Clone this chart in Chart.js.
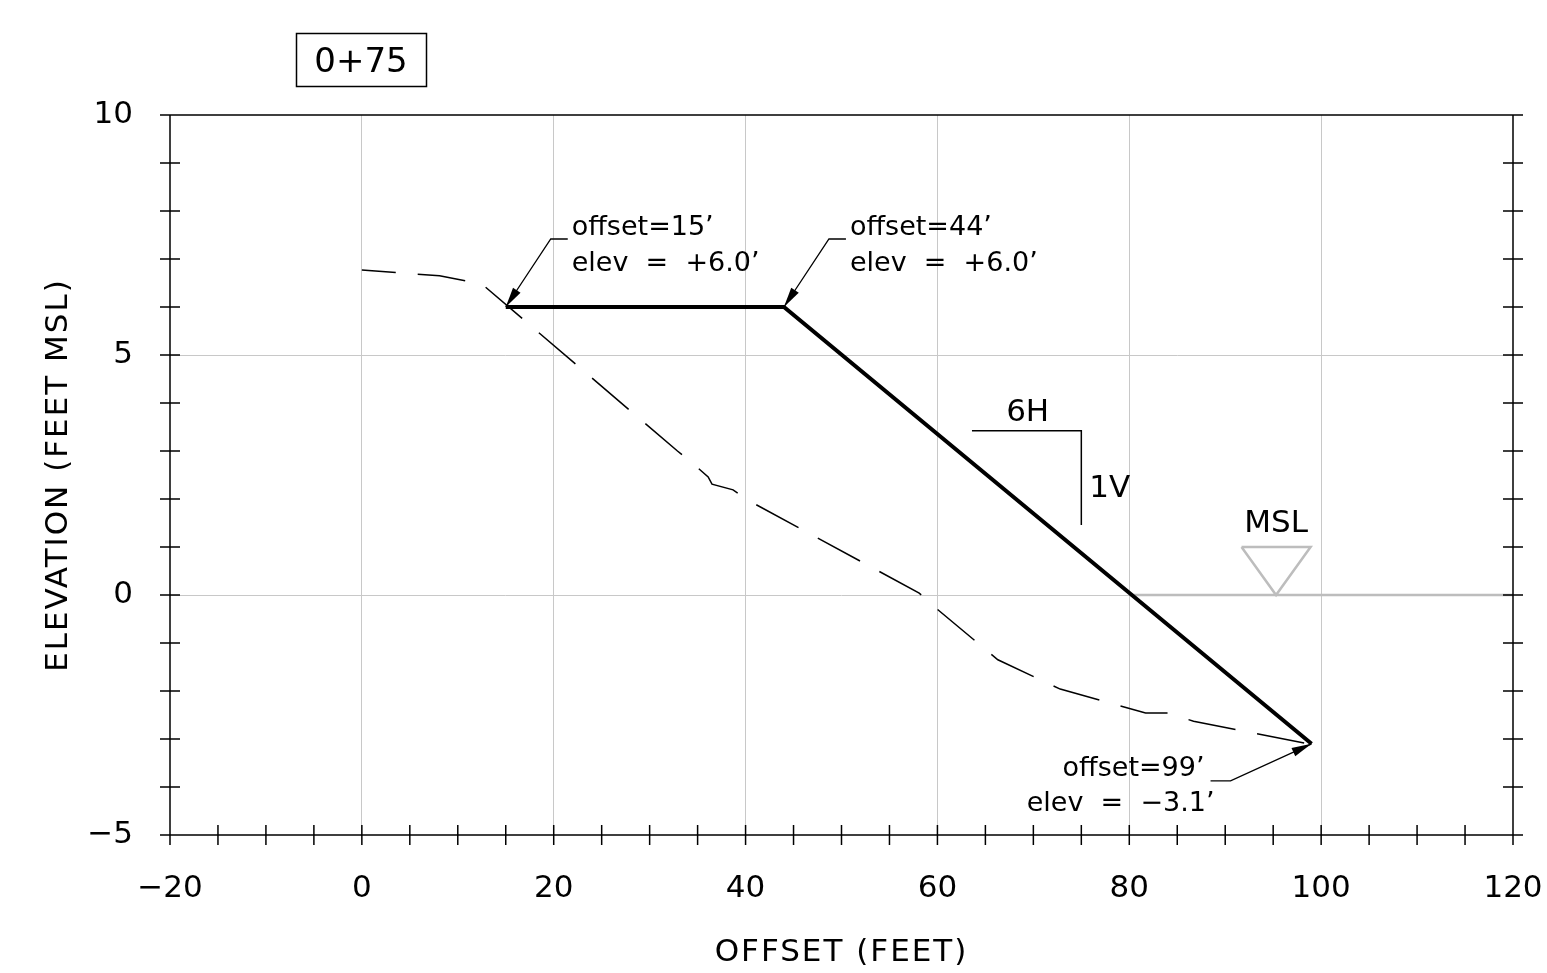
<!DOCTYPE html>
<html>
<head>
<meta charset="utf-8">
<script src="https://cdn.jsdelivr.net/npm/chart.js@4.4.1/dist/chart.umd.min.js"></script>
<style>
  html, body { margin: 0; padding: 0; background: #fff; }
  #wrap { width: 1547px; height: 973px; position: relative; }
</style>
</head>
<body>
<div id="wrap"><canvas id="chart"></canvas></div>
<script>
// ===== data (feet) =====
const groundX = [0, 8.1, 12.5, 32.9, 34.2, 36.1, 36.5, 38.7, 40.2, 58.1, 59.7, 66.3, 72.8, 81.7, 84.0, 86.7, 99.1, 99.9];
const groundY = [6.77, 6.65, 6.48, 3.0, 2.79, 2.46, 2.31, 2.19, 1.98, 0.04, -0.25, -1.35, -1.96, -2.46, -2.46, -2.63, -3.12, -3.12];

const designX = [15, 44, 99];
const designY = [6, 6, -3.1];

const mslX = [80, 120];
const mslY = [0, 0];
const mslMarkX = [91.7, 98.9, 95.3, 91.7];
const mslMarkY = [1, 1, 0, 1];

const slopeX = [63.6, 75, 75];
const slopeY = [3.42, 3.42, 1.46];

const xTicks = [-20, 0, 20, 40, 60, 80, 100, 120];
const yTicks = [-5, 0, 5, 10];

const calloutX = [15, 44, 99];
const calloutY = [6, 6, -3.1];
const calloutText = [
  ['offset=15’', 'elev  =  +6.0’'],
  ['offset=44’', 'elev  =  +6.0’'],
  ['offset=99’', 'elev  =  −3.1’']
];

const stationLabel = '0+75';
const slopeH = '6H', slopeV = '1V';
const mslLabel = 'MSL';
const xTitle = 'OFFSET (FEET)';
const yTitle = 'ELEVATION (FEET MSL)';

const FONT = '"DejaVu Sans", sans-serif';
const pts = (xs, ys) => xs.map((x, i) => ({ x, y: ys[i] }));
const fmt = v => (v < 0 ? '−' + Math.abs(v) : String(v));

function arrowHead(ctx, fx, fy, tx, ty) {
  const a = Math.atan2(ty - fy, tx - fx);
  const L = 20, W = 4.5;
  const c = Math.cos(a), s = Math.sin(a);
  ctx.beginPath();
  ctx.moveTo(tx, ty);
  ctx.lineTo(tx - L * c + W * s, ty - L * s - W * c);
  ctx.lineTo(tx - L * c - W * s, ty - L * s + W * c);
  ctx.closePath();
  ctx.fill();
}

// ===== frame, minor ticks, labels, callouts =====
const drawing = {
  id: 'drawing',
  afterDraw(chart) {
    const { ctx, chartArea: a, scales: { x, y } } = chart;
    ctx.save();
    ctx.strokeStyle = '#000';
    ctx.fillStyle = '#000';
    ctx.lineWidth = 1.5;

    // border + ticks
    ctx.beginPath();
    ctx.moveTo(a.left, a.top); ctx.lineTo(a.left, a.bottom);
    ctx.moveTo(a.right, a.top); ctx.lineTo(a.right, a.bottom);
    ctx.moveTo(a.left - 10, a.top); ctx.lineTo(a.right + 10, a.top);
    ctx.moveTo(a.left - 10, a.bottom); ctx.lineTo(a.right + 10, a.bottom);
    for (let v = y.min; v <= y.max; v += 1) {
      const py = y.getPixelForValue(v);
      ctx.moveTo(a.left - 10, py); ctx.lineTo(a.left + 10, py);
      ctx.moveTo(a.right - 10, py); ctx.lineTo(a.right + 10, py);
    }
    for (let v = x.min; v <= x.max; v += 5) {
      const px = x.getPixelForValue(v);
      ctx.moveTo(px, a.bottom - 10); ctx.lineTo(px, a.bottom + 10);
    }
    ctx.stroke();

    // axis titles
    ctx.font = '31px ' + FONT;
    ctx.letterSpacing = '2px';
    ctx.textAlign = 'center';
    ctx.textBaseline = 'alphabetic';
    ctx.fillText(xTitle, (a.left + a.right) / 2, 961);
    ctx.save();
    ctx.translate(67, (a.top + a.bottom) / 2);
    ctx.rotate(-Math.PI / 2);
    ctx.fillText(yTitle, 0, 0);
    ctx.restore();
    ctx.letterSpacing = '0px';

    // station box
    ctx.lineWidth = 1.5;
    ctx.strokeRect(296.5, 33.5, 130, 53);
    ctx.font = '34px ' + FONT;
    ctx.fillText(stationLabel, 361, 72);
    ctx.font = '31px ' + FONT;

    // slope label
    ctx.fillText(slopeH, (x.getPixelForValue(slopeX[0]) + x.getPixelForValue(slopeX[1])) / 2 + 1, 421);
    ctx.textAlign = 'left';
    ctx.fillText(slopeV, x.getPixelForValue(slopeX[1]) + 8, 497);

    // MSL label
    ctx.textAlign = 'center';
    ctx.fillText(mslLabel, x.getPixelForValue(mslMarkX[2]), 532);

    // callouts
    ctx.font = '27px ' + FONT;
    ctx.lineWidth = 1.3;
    calloutX.forEach((cx, i) => {
      const px = x.getPixelForValue(cx), py = y.getPixelForValue(calloutY[i]);
      const left = cx > 90;
      let ex, ey, hx;
      if (!left) { ex = px + 45; ey = py - 68; hx = px + 62; }
      else { ex = px - 81; ey = py + 37; hx = px - 101; }
      ctx.beginPath();
      ctx.moveTo(hx, ey); ctx.lineTo(ex, ey); ctx.lineTo(px, py);
      ctx.stroke();
      arrowHead(ctx, ex, ey, px, py);
      const [l1, l2] = calloutText[i];
      if (!left) {
        ctx.textAlign = 'left';
        ctx.fillText(l1, px + 66, py - 72);
        ctx.fillText(l2, px + 66, py - 36);
      } else {
        ctx.textAlign = 'right';
        ctx.fillText(l1, px - 107, py + 32);
        ctx.fillText(l2, px - 97, py + 67);
      }
    });
    ctx.restore();
  }
};

new Chart(document.getElementById('chart'), {
  type: 'scatter',
  data: {
    datasets: [
      { data: pts(designX, designY), showLine: true, borderColor: '#000', borderWidth: 4, pointRadius: 0, borderJoinStyle: 'miter' },
      { data: pts(slopeX, slopeY), showLine: true, borderColor: '#000', borderWidth: 1.5, pointRadius: 0, borderJoinStyle: 'miter' },
      { data: pts(groundX, groundY), showLine: true, borderColor: '#000', borderWidth: 1.5, pointRadius: 0, borderDash: [48, 22], borderDashOffset: 14 },
      { data: pts(mslMarkX, mslMarkY), showLine: true, borderColor: '#bdbdbd', borderWidth: 2.5, pointRadius: 0, borderJoinStyle: 'miter' },
      { data: pts(mslX, mslY), showLine: true, borderColor: '#bdbdbd', borderWidth: 2.5, pointRadius: 0 }
    ]
  },
  options: {
    responsive: true,
    maintainAspectRatio: false,
    animation: false,
    layout: { padding: { top: 115, right: 34, left: 0, bottom: 0 } },
    plugins: { legend: { display: false }, tooltip: { enabled: false } },
    scales: {
      x: {
        type: 'linear', min: -20, max: 120,
        afterBuildTicks: s => { s.ticks = xTicks.map(v => ({ value: v })); },
        afterFit: s => { s.height = 138; s.paddingLeft = 0; s.paddingRight = 0; },
        ticks: { callback: v => fmt(v), color: '#000', font: { family: FONT, size: 31 }, padding: 35, maxRotation: 0 },
        grid: { drawTicks: false, color: c => (c.tick && (c.tick.value === -20 || c.tick.value === 120)) ? 'rgba(0,0,0,0)' : '#c8c8c8', lineWidth: 1 },
        border: { display: false }
      },
      y: {
        type: 'linear', min: -5, max: 10,
        afterBuildTicks: s => { s.ticks = yTicks.map(v => ({ value: v })); },
        afterFit: s => { s.width = 170; s.paddingTop = 0; s.paddingBottom = 0; },
        ticks: { callback: v => fmt(v), color: '#000', font: { family: FONT, size: 31 }, padding: 37 },
        grid: { drawTicks: false, color: c => (c.tick && (c.tick.value === -5 || c.tick.value === 10)) ? 'rgba(0,0,0,0)' : '#c8c8c8', lineWidth: 1 },
        border: { display: false }
      }
    }
  },
  plugins: [drawing]
});
</script>
</body>
</html>
